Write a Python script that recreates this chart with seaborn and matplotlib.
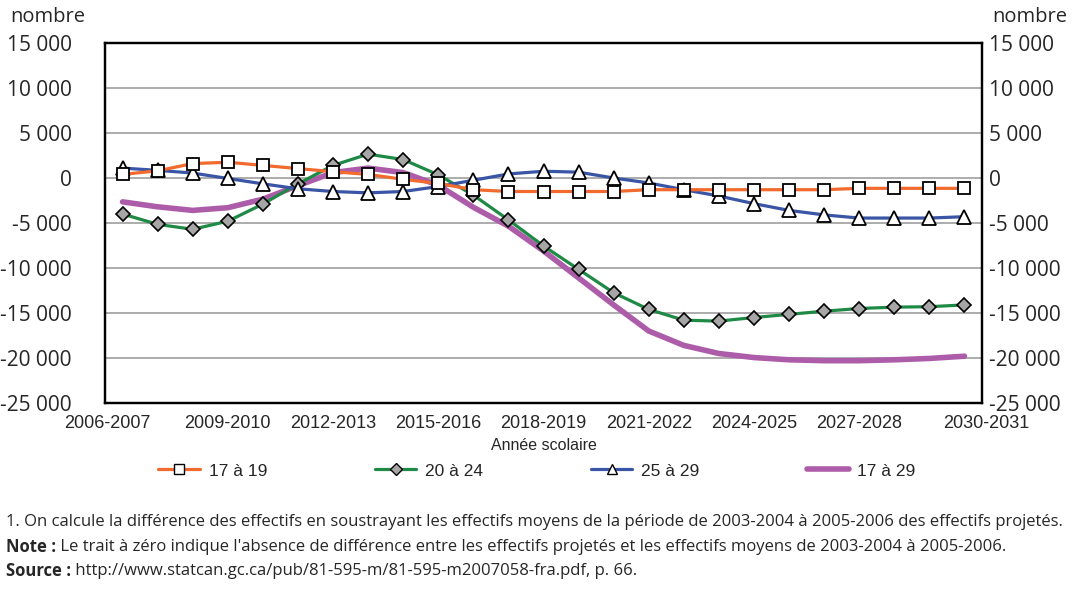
import numpy as np
import pandas as pd
import matplotlib
matplotlib.use("Agg")
import matplotlib.pyplot as plt
import matplotlib.transforms as mtransforms
from matplotlib.lines import Line2D
import seaborn as sns

years = ["2006-2007", "2007-2008", "2008-2009", "2009-2010", "2010-2011", "2011-2012",
         "2012-2013", "2013-2014", "2014-2015", "2015-2016", "2016-2017", "2017-2018",
         "2018-2019", "2019-2020", "2020-2021", "2021-2022", "2022-2023", "2023-2024",
         "2024-2025", "2025-2026", "2026-2027", "2027-2028", "2028-2029", "2029-2030",
         "2030-2031"]
age_17_19 = [400, 800, 1600, 1750, 1400, 1050, 700, 400, -150, -600, -1300, -1500, -1500,
             -1500, -1500, -1300, -1300, -1300, -1300, -1300, -1300, -1150, -1150, -1150, -1150]
age_20_24 = [-4000, -5150, -5700, -4800, -2900, -650, 1400, 2650, 2050, 350, -1900, -4650,
             -7550, -10150, -12750, -14600, -15800, -15900, -15500, -15150, -14800, -14500,
             -14350, -14300, -14100]
age_25_29 = [1100, 850, 550, -50, -650, -1200, -1500, -1650, -1500, -950, -250, 450, 750,
             650, 0, -550, -1300, -2000, -2850, -3600, -4100, -4450, -4450, -4450, -4300]
age_17_29 = [-2650, -3200, -3600, -3300, -2350, -850, 600, 1100, 600, -800, -3250, -5350,
             -8100, -11100, -14100, -17000, -18600, -19500, -19950, -20200, -20300, -20300,
             -20200, -20050, -19800]
labels = ["17 à 19", "20 à 24", "25 à 29", "17 à 29"]
colors = ["#f26a2e", "#1f8a45", "#3a55a5", "#ad5ca9"]

sns.set_style("white")
plt.rcParams["font.family"] = ["Liberation Sans", "DejaVu Sans"]
frut = ["Open Sans", "DejaVu Sans"]

x = np.arange(len(years))
fig = plt.figure(figsize=(10.87, 5.97), dpi=100)
ax = fig.add_axes([105 / 1087, 1 - 403 / 597, 877 / 1087, 360 / 597])

sns.lineplot(x=x, y=age_17_29, ax=ax, color=colors[3], lw=4.0, zorder=3)
sns.lineplot(x=x, y=age_20_24, ax=ax, color=colors[1], lw=2.3, marker="D", markersize=7,
             markerfacecolor="#a6a6a6", markeredgecolor="black", markeredgewidth=1.2, zorder=4)
sns.lineplot(x=x, y=age_25_29, ax=ax, color=colors[2], lw=2.3, marker="^", markersize=10,
             markerfacecolor="white", markeredgecolor="black", markeredgewidth=1.3, zorder=5)
sns.lineplot(x=x, y=age_17_19, ax=ax, color=colors[0], lw=2.3, marker="s", markersize=9,
             markerfacecolor="white", markeredgecolor="black", markeredgewidth=1.3, zorder=6)

ax.set_xlim(-0.5, len(years) - 0.5)
ax.set_ylim(-25000, 15000)
yt = np.arange(-25000, 15001, 5000)
fmt = lambda v: f"{v:,.0f}".replace(",", " ")
ax.set_yticks(yt)
ax.set_yticklabels([fmt(v) for v in yt], fontfamily=frut, fontsize=15)
ax.tick_params(axis="y", length=0, pad=24)
ax.grid(axis="y", color="#a6a6a6", lw=1.3)
ax.set_axisbelow(True)

ax2 = ax.twinx()
ax2.set_ylim(-25000, 15000)
ax2.set_yticks(yt)
ax2.set_yticklabels([fmt(v) for v in yt], fontfamily=frut, fontsize=15)
ax2.tick_params(axis="y", length=0, pad=5)

tick_idx = list(range(0, len(years), 3))
ax.set_xticks(tick_idx)
ax.set_xticklabels([years[i] for i in tick_idx], fontsize=13)
ax.set_xticks(np.arange(0.5, len(years) - 1, 1), minor=True)
ax.tick_params(axis="x", which="major", length=0, pad=9)
ax.tick_params(axis="x", which="minor", direction="in", length=5, width=1.2, color="black")
tl = ax.get_xticklabels()
tl[0].set_transform(tl[0].get_transform() + mtransforms.ScaledTranslation(-15 / 100, 0, fig.dpi_scale_trans))
tl[-1].set_transform(tl[-1].get_transform() + mtransforms.ScaledTranslation(22 / 100, 0, fig.dpi_scale_trans))
ax.set_xlabel("Année scolaire", fontsize=11.5, labelpad=4)
ax.set_ylabel("")

for a in (ax, ax2):
    for s in a.spines.values():
        s.set_color("black")
        s.set_linewidth(1.6)

fig.text(10 / 1087, 1 - 17 / 597, "nombre", fontfamily=frut, fontsize=14.5, va="center", ha="left")
fig.text(992 / 1087, 1 - 17 / 597, "nombre", fontfamily=frut, fontsize=14.5, va="center", ha="left")

handles = [
    Line2D([], [], color=colors[0], lw=2.3, marker="s", markersize=7, markerfacecolor="white", markeredgecolor="black"),
    Line2D([], [], color=colors[1], lw=2.3, marker="D", markersize=6, markerfacecolor="#a6a6a6", markeredgecolor="black"),
    Line2D([], [], color=colors[2], lw=2.3, marker="^", markersize=7, markerfacecolor="white", markeredgecolor="black"),
    Line2D([], [], color=colors[3], lw=4.0),
]
fig.legend(handles, labels, loc="center", bbox_to_anchor=(537 / 1087, 1 - 471 / 597), ncol=4,
           frameon=False, fontsize=12.5, handlelength=2.4, handletextpad=0.5, columnspacing=6.2)

fig.text(6 / 1087, 1 - 522 / 597,
         "1. On calcule la différence des effectifs en soustrayant les effectifs moyens de la période de 2003-2004 à 2005-2006 des effectifs projetés.",
         fontfamily=frut, fontsize=12, va="center")

fig.canvas.draw()
renderer = fig.canvas.get_renderer()
for y, bold, rest in [(547, "Note :", " Le trait à zéro indique l'absence de différence entre les effectifs projetés et les effectifs moyens de 2003-2004 à 2005-2006."),
                      (571, "Source :", " http://www.statcan.gc.ca/pub/81-595-m/81-595-m2007058-fra.pdf, p. 66.")]:
    t = fig.text(6 / 1087, 1 - y / 597, bold, fontfamily=frut, fontsize=12, fontweight="bold", va="center")
    bb = t.get_window_extent(renderer)
    fig.text(bb.x1 / fig.bbox.width, 1 - y / 597, rest, fontfamily=frut, fontsize=12, va="center")

fig.savefig("out.png", dpi=100)
